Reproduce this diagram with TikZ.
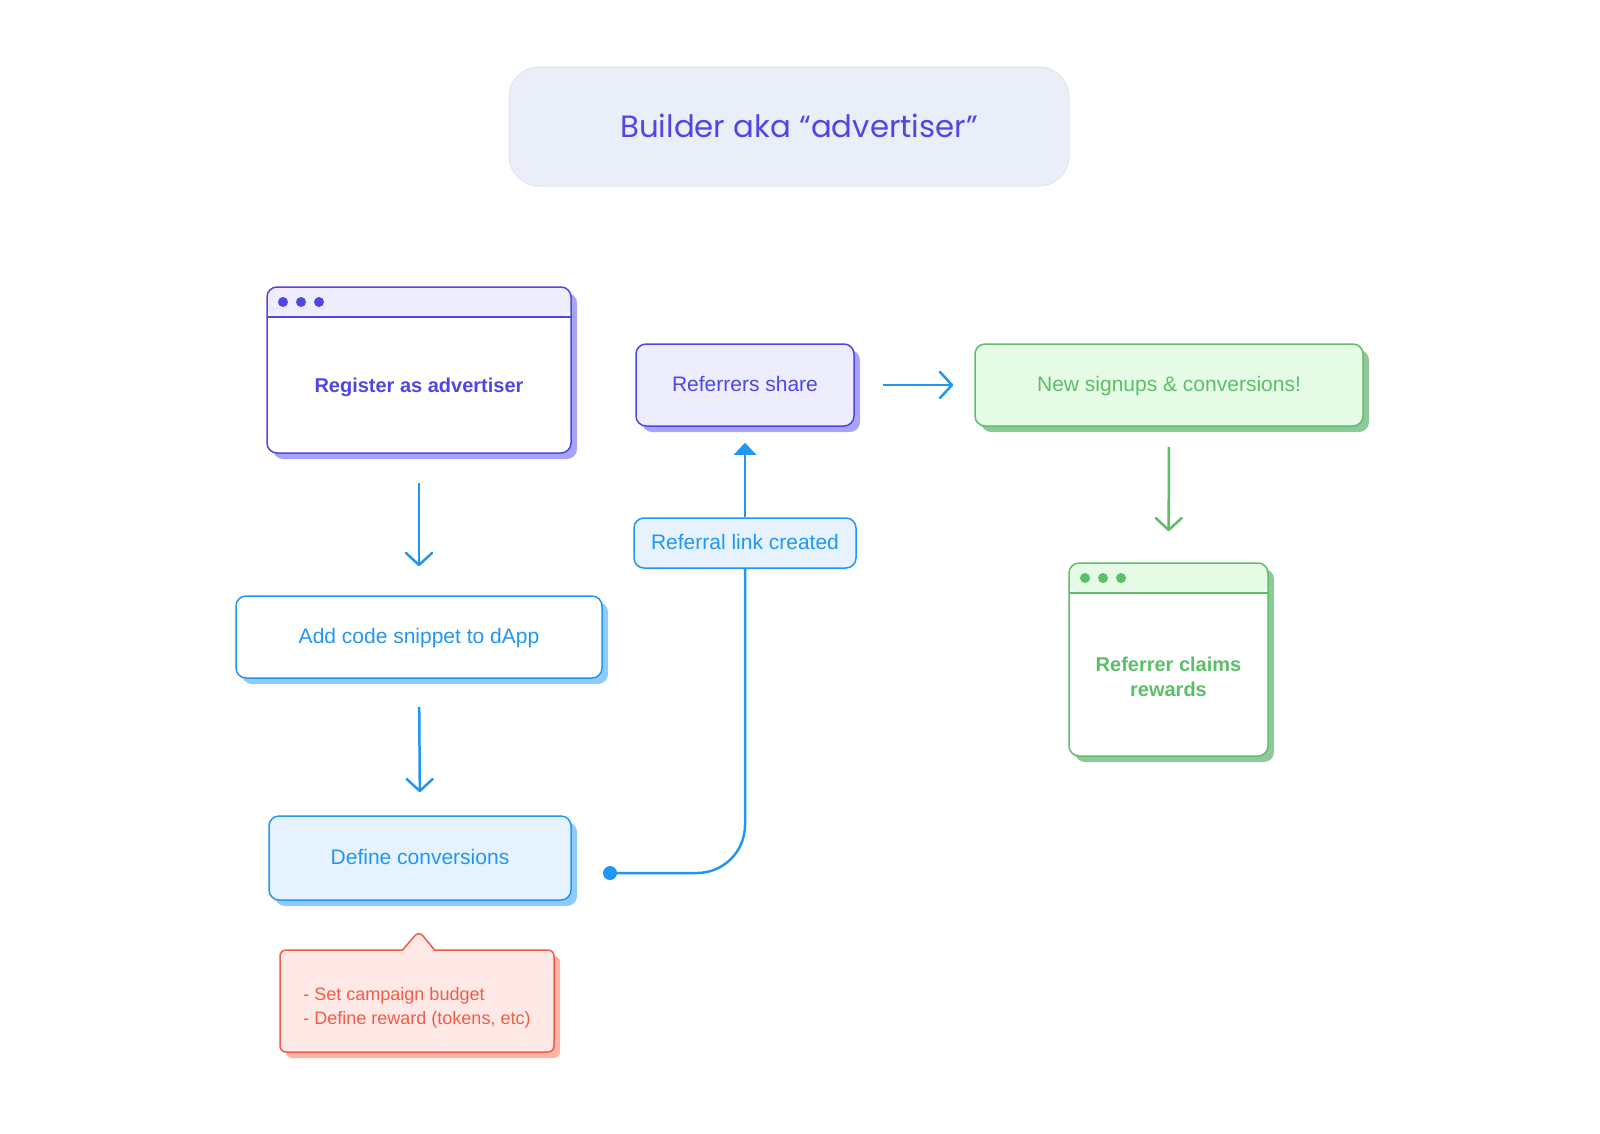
\documentclass[tikz,border=0pt]{standalone}
\usepackage{fontspec}
\setmainfont{Liberation Sans}
\newfontfamily\titlefont{Poppins}
\usepackage{xcolor}
\usetikzlibrary{arrows.meta, positioning, shadows, shapes.callouts}
\definecolor{indigo}{HTML}{4F46E5}
\definecolor{indigolight}{HTML}{EEEDFE}
\definecolor{indigoshadow}{HTML}{A8A4F5}
\definecolor{skyblue}{HTML}{2196F3}
\definecolor{skylight}{HTML}{E6F3FE}
\definecolor{skyshadow}{HTML}{90CAF9}
\definecolor{leafgreen}{HTML}{5DBE68}
\definecolor{leaflight}{HTML}{E5FBE6}
\definecolor{leafshadow}{HTML}{8FC89A}
\definecolor{coral}{HTML}{F25C47}
\definecolor{corallight}{HTML}{FFE9E6}
\definecolor{coralshadow}{HTML}{FFB3A7}
\definecolor{titlefill}{HTML}{E9EEF8}
\definecolor{titleborder}{HTML}{E0E5EF}

\begin{document}
\begin{tikzpicture}[x=1pt, y=-1pt,
  box/.style={rectangle, rounded corners=10pt, line width=1.5pt, align=center,
    font=\fontsize{21}{25}\selectfont, inner sep=0pt, text height=16pt, text depth=3pt},
  card/.style n args={3}{box, draw=#1, fill=#2, text=#1,
    drop shadow={shadow xshift=6pt, shadow yshift=-6pt, fill=#3, opacity=1}},
  window/.style n args={3}{box, draw=#1, fill=white,
    drop shadow={shadow xshift=6pt, shadow yshift=-6pt, fill=#3, opacity=1},
    path picture={
      \fill[#2] (path picture bounding box.north west) rectangle ([yshift=-30pt]path picture bounding box.north east);
      \draw[#1, line width=1.5pt] ([yshift=-30pt]path picture bounding box.north west) -- ([yshift=-30pt]path picture bounding box.north east);
      \foreach \k in {0,1,2}
        \fill[#1] ([xshift={(16+18*\k)*1pt}, yshift=-15pt]path picture bounding box.north west) circle (5pt);
    }},
  wintext/.style={font=\fontsize{20}{25}\selectfont\bfseries, text=#1, align=center, yshift=-17pt},
  arrow/.style={-{Straight Barb[round, length=12pt, width=26pt]}, line width=2.5pt, skyblue},
  link/.style={line width=2.5pt, skyblue}
]
  \fill[white] (0,0) rectangle (1600,1133);
  \useasboundingbox (0,0) rectangle (1600,1133);

  % Title
  \node[box, rounded corners=30pt, fill=titlefill, draw=titleborder, line width=1pt,
    minimum width=560pt, minimum height=119pt, text=indigo, text height=28pt, text depth=6pt,
    font=\titlefont\fontsize{30.8}{36}\selectfont] (builder) at (789,126.5) {\hspace*{20pt}Builder aka “advertiser”};

  % Advertiser steps
  \node[window={indigo}{indigolight}{indigoshadow}, minimum width=304pt, minimum height=166pt,
    label={[wintext=indigo]center:Register as advertiser}] (register) at (419,370) {};
  \node[card={skyblue}{white}{skyshadow}, minimum width=366pt, minimum height=82pt] (snippet) at (419,637) {Add code snippet to dApp};
  \node[card={skyblue}{skylight}{skyshadow}, minimum width=302pt, minimum height=84pt] (conversions) at (420,858) {Define conversions};
  \node[rectangle callout, rounded corners=6pt, line width=1.5pt, draw=coral, fill=corallight, text=coral,
    drop shadow={shadow xshift=6pt, shadow yshift=-6pt, fill=coralshadow, opacity=1},
    callout absolute pointer={(419,931)}, callout pointer width=32pt,
    minimum width=274pt, minimum height=102pt, align=left,
    font=\fontsize{18}{24}\selectfont] (budget) at (417,1001) {\rule{0pt}{27pt}- Set campaign budget\\- Define reward (tokens, etc)};

  % Referral flow
  \node[box, draw=skyblue, fill=skylight, text=skyblue, minimum width=222pt, minimum height=50pt] (referral) at (745,543) {Referral link created};
  \node[card={indigo}{indigolight}{indigoshadow}, minimum width=218pt, minimum height=82pt] (share) at (745,385) {Referrers share};
  \node[card={leafgreen}{leaflight}{leafshadow}, minimum width=388pt, minimum height=82pt] (signups) at (1169,385) {New signups \& conversions!};
  \node[window={leafgreen}{leaflight}{leafshadow}, minimum width=199pt, minimum height=193pt,
    label={[wintext=leafgreen]center:Referrer claims\\rewards}] (claims) at (1168.5,659.5) {};

  % Connectors
  \draw[arrow, shorten <=29pt, shorten >=29pt] (register.south) -- (snippet.north);
  \draw[arrow, shorten <=28pt, shorten >=23pt] (snippet.south) -- (conversions.north);
  \coordinate (start) at (610,873);
  \fill[skyblue] (start) circle (7pt);
  \draw[link, rounded corners=48pt] (start) -| (referral.south);
  \draw[link, -{Triangle[length=12pt, width=22pt]}, shorten >=16pt] (referral.north) -- (share.south);
  \draw[arrow, shorten <=28pt, shorten >=21pt] (share.east) -- (signups.west);
  \draw[arrow, leafgreen, shorten <=20pt, shorten >=31pt] (signups.south) -- (claims.north);
\end{tikzpicture}
\end{document}
